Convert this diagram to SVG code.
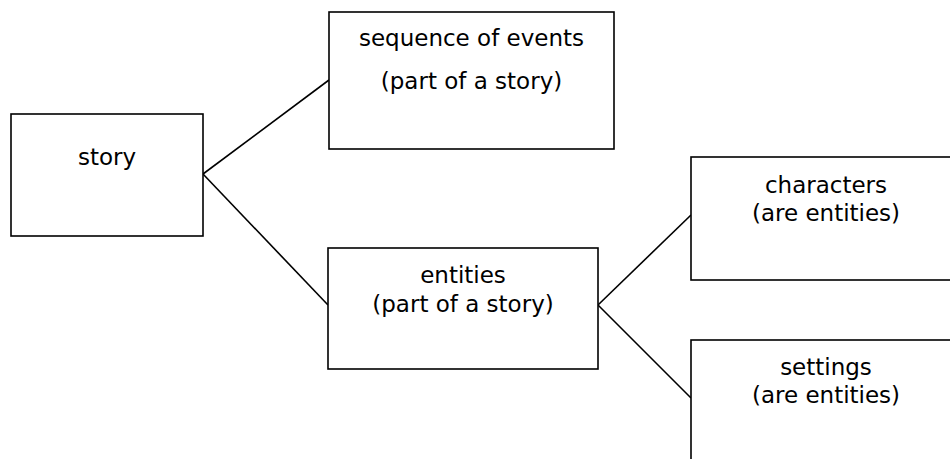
<svg xmlns="http://www.w3.org/2000/svg" width="950" height="459" viewBox="0 0 950 459">
<style>
.box{fill:#fff;stroke:#000;stroke-width:1.6}
.edge{fill:none;stroke:#000;stroke-width:1.6}
text{font-family:"DejaVu Sans","Verdana",sans-serif;font-size:23px;fill:#000;text-anchor:middle}
</style>
<rect width="950" height="459" fill="#fff"/>
<g id="connectors">
<line class="edge" x1="203" y1="174" x2="329" y2="80"/>
<line class="edge" x1="203" y1="174" x2="328" y2="305"/>
<line class="edge" x1="598" y1="305" x2="691" y2="215"/>
<line class="edge" x1="598" y1="305" x2="691" y2="398"/>
</g>
<g id="story">
<rect class="box" x="11" y="114" width="192" height="122"/>
<text x="107" y="165">story</text>
</g>
<g id="sequence">
<rect class="box" x="329" y="12" width="285" height="137"/>
<text x="471.5" y="46">sequence of events</text>
<text x="471.5" y="89">(part of a story)</text>
</g>
<g id="entities">
<rect class="box" x="328" y="248" width="270" height="121"/>
<text x="463" y="283">entities</text>
<text x="463" y="312">(part of a story)</text>
</g>
<g id="characters">
<rect class="box" x="691" y="157" width="270" height="123"/>
<text x="826" y="193">characters</text>
<text x="826" y="221">(are entities)</text>
</g>
<g id="settings">
<rect class="box" x="691" y="340" width="270" height="130"/>
<text x="826" y="375">settings</text>
<text x="826" y="403">(are entities)</text>
</g>
</svg>
